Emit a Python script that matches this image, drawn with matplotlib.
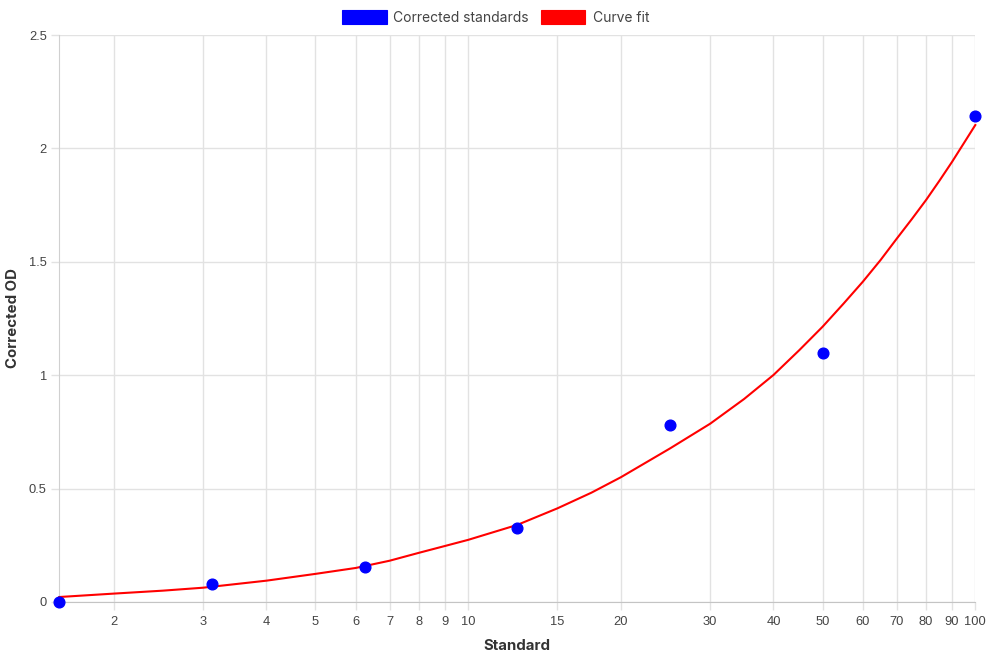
import matplotlib
matplotlib.use("Agg")
import matplotlib.pyplot as plt
from matplotlib.patches import Rectangle
from matplotlib.ticker import FixedLocator, NullLocator

# ---- data ----
standards = [1.5625, 3.125, 6.25, 12.5, 25, 50, 100]
corrected_od = [0.0, 0.081, 0.156, 0.328, 0.782, 1.099, 2.143]

fit_x = [1.5625, 2, 2.5, 3, 4, 5, 6, 7, 8, 9, 10, 12.5, 15, 17.5, 20, 25, 30, 35, 40, 45,
         50, 55, 60, 65, 70, 75, 80, 85, 90, 95, 100]
fit_y = [0.022, 0.037, 0.050, 0.063, 0.094, 0.124, 0.150, 0.182, 0.217, 0.247, 0.274, 0.340,
         0.413, 0.482, 0.550, 0.677, 0.786, 0.895, 1.001, 1.111,
         1.214, 1.316, 1.412, 1.507, 1.602, 1.689, 1.773, 1.858, 1.941, 2.024, 2.103]

x_ticks = [2, 3, 4, 5, 6, 7, 8, 9, 10, 15, 20, 30, 40, 50, 60, 70, 80, 90, 100]
y_ticks = [0, 0.5, 1, 1.5, 2, 2.5]
y_tick_labels = ["0", "0.5", "1", "1.5", "2", "2.5"]

legend_labels = ["Corrected standards", "Curve fit"]
x_title = "Standard"
y_title = "Corrected OD"

W, H = 990, 660
fig = plt.figure(figsize=(W / 100, H / 100), dpi=100)
L, R, T, B = 59.3, 975.3, 35, 602
ax = fig.add_axes([L / W, 1 - B / H, (R - L) / W, (B - T) / H])

grid_c = "#e2e2e2"
ax.set_xscale("log")
ax.set_xlim(standards[0], 100)
ax.set_ylim(0, 2.5)
ax.xaxis.set_major_locator(FixedLocator(x_ticks))
ax.xaxis.set_minor_locator(NullLocator())
ax.set_xticks(x_ticks)
ax.set_xticklabels([str(v) for v in x_ticks])
ax.set_yticks(y_ticks)
ax.set_yticklabels(y_tick_labels)

ax.grid(True, color=grid_c, linewidth=1.0)
ax.set_axisbelow(True)
for s in ["top", "right"]:
    ax.spines[s].set_visible(False)
ax.spines["left"].set_color("#d0d0d0")
ax.spines["bottom"].set_color("#c4c4c4")
ax.tick_params(axis="both", length=6, width=1.0, color=grid_c, labelsize=9.3,
               labelcolor="#444444")
ax.tick_params(axis="x", pad=4)
ax.tick_params(axis="y", pad=3)
for lab in ax.get_xticklabels() + ax.get_yticklabels():
    lab.set_family(["Liberation Sans", "DejaVu Sans"])

ax.plot(fit_x, fit_y, color="#ff0000", linewidth=1.5, zorder=3, clip_on=False,
        solid_joinstyle="round")
ax.plot(standards, corrected_od, linestyle="none", marker="o", markersize=7.7,
        color="#0000ff", zorder=4, clip_on=False)

ax.set_xlabel(x_title, fontsize=10.8, fontweight="bold", color="#333333",
              family=["Inter", "DejaVu Sans"])
ax.set_ylabel(y_title, fontsize=10.8, fontweight="bold", color="#333333",
              family=["Inter", "DejaVu Sans"])
ax.xaxis.set_label_coords((517 - L) / (R - L), (B - 646) / (B - T))
ax.yaxis.set_label_coords((12.8 - L) / (R - L), 0.5)
ax.xaxis.label.set_va("center")
ax.yaxis.label.set_va("center")

# legend (drawn manually, figure pixel coords)
def px(x, y):
    return x / W, 1 - y / H

items = [(legend_labels[0], "#0000ff", 342.0, 393.3), (legend_labels[1], "#ff0000", 540.7, 592.7)]
for label, col, bx, tx in items:
    x0, y0 = px(bx, 24.3)
    fig.patches.append(Rectangle((x0, y0), 44.5 / W, 14 / H, transform=fig.transFigure,
                                 facecolor=col, edgecolor=col, linewidth=0.8))
    fig.text(*px(tx, 17.5), label, fontsize=10, color="#444444",
             family=["Inter", "DejaVu Sans"], ha="left", va="center")

fig.savefig("out.png", dpi=100, facecolor="white")
